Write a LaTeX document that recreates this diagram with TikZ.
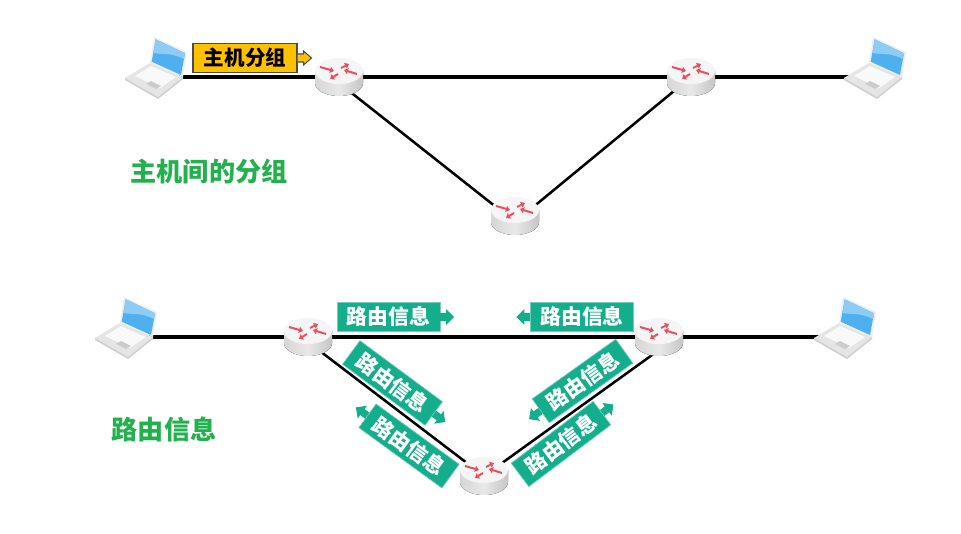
\documentclass[tikz,border=0pt]{standalone}
\usepackage{fontspec}
\newfontfamily\cjk{Noto Sans CJK SC}
\usetikzlibrary{arrows.meta}
\definecolor{tagteal}{HTML}{14AE8C}
\definecolor{titlegreen}{HTML}{22B14C}
\definecolor{pktyellow}{HTML}{FFC000}
\definecolor{routerred}{HTML}{E8505F}
\definecolor{lapblue}{HTML}{4FB0F0}
\tikzset{
    spot/.style={inner sep=0pt, minimum size=1pt},
    link/.style={line width=2.3pt, black},
    slant/.style={line width=1.9pt, black},
    tagbox/.style={draw=tagteal!60, line width=0.5pt, fill=tagteal, text=white,
                   font=\cjk\bfseries\fontsize{15.6}{15.6}\selectfont,
                   minimum width=77pt, minimum height=22pt, inner sep=0pt, transform shape},
    tagarr/.style={line width=5.5pt, tagteal, -{Triangle[length=6pt,width=11.5pt]}},
    title/.style={text=titlegreen, font=\cjk\bfseries\fontsize{19.6}{19.6}\selectfont, inner sep=0pt},
    redarr/.style={routerred, line width=1.5pt, -{Triangle[length=3pt,width=4.6pt]}},
    tagright/.pic={
        \node[tagbox] (-box) at (0,0) {路由信息};
        \draw[tagarr] (-box.east) -- ++(14,0);
    },
    tagleft/.pic={
        \node[tagbox] (-box) at (0,0) {路由信息};
        \draw[tagarr] (-box.west) -- ++(-14,0);
    },
    router/.pic={
        \fill[left color=gray!32, right color=gray!45, middle color=gray!18]
            (-24,-6) -- (-24,6) arc[x radius=24, y radius=-13, start angle=180, end angle=360]
            -- (24,-6) -- cycle;
        \fill[gray!8] (0,-6) ellipse[x radius=24, y radius=13];
        \draw[redarr] (-19,-10) -- (-5,-6);
        \draw[redarr] (18,-3) -- (5,-7);
        \draw[redarr] (2,-9) -- (10,-13);
        \draw[redarr] (-1,-3) -- (-9,2);
    },
    laptop/.pic={
        \fill[gray!38] (-45,1) -- (-45,3) -- (-12,22) -- (13,2) -- (13,0) -- cycle;
        \fill[gray!20] (-20,-14) -- (-45,1) -- (-12,20) -- (13,0) -- cycle;
        \fill[gray!5] (-19,-11) -- (-35,-1) -- (-10,11) -- (6,0) -- cycle;
        \fill[gray!40] (-24,7) -- (-19,4) -- (-9,9) -- (-14,12) -- cycle;
        \fill[gray!14] (-16,-40) -- (17,-25) -- (13,0) -- (-20,-14) -- cycle;
        \fill[lapblue] (-14.3,-37.7) -- (15,-23.7) -- (11,-2) -- (-18.3,-15.3) -- cycle;
        \fill[lapblue!65!white] (-14.3,-37.7) -- (15,-23.7) -- (14,-18) .. controls (0,-25) and (-8,-22) .. (-16.5,-24) -- cycle;
    }
}
\begin{document}
\begin{tikzpicture}[x=0.75pt, y=-0.75pt]
\useasboundingbox (0,0) rectangle (961,534);
\fill[white] (0,0) rectangle (961,534);
% upper network
\node[spot] (lapa) at (170,77) {};
\node[spot] (lapb) at (889,77) {};
\node[spot] (ra) at (339,77) {};
\node[spot] (rb) at (691,77) {};
\node[spot] (rc) at (515,216) {};
\draw[link] (lapa) -- (ra);
\draw[link] (ra) -- (rb);
\draw[link] (rb) -- (lapb);
\draw[slant] ([yshift=-4.5pt]ra.center) -- ([yshift=-4.5pt]rc.center);
\draw[slant] (rb) -- ([yshift=-4.5pt]rc.center);
\pic at (lapa) {laptop};
\pic at (lapb) {laptop};
\pic at (ra) {router};
\pic at (rb) {router};
\pic at (rc) {router};
% packet
\node[draw=black!70, line width=0.8pt, fill=pktyellow, minimum width=78pt, minimum height=22pt, inner sep=0pt,
      font=\cjk\bfseries\fontsize{15.4}{15.4}\selectfont] (pkt) at (245,58) {主机分组};
\draw[draw=black!70, line width=0.8pt, fill=pktyellow, line join=miter]
    (pkt.east) ++(0,-4) -- ++(6,0) -- ++(0,-3) -- ++(8,7) -- ++(-8,7) -- ++(0,-3) -- ++(-6,0);
\node[title] (ttla) at (209,172) {主机间的分组};
% lower network
\node[spot] (lapc) at (140,337) {};
\node[spot] (lapd) at (859,337) {};
\node[spot] (rd) at (308,337) {};
\node[spot] (re) at (659,337) {};
\node[spot] (rf) at (484,476) {};
\draw[link] (lapc) -- (rd);
\draw[link] (rd) -- (re);
\draw[link] (re) -- (lapd);
\draw[slant] ([yshift=-3.75pt]rd.center) -- (rf);
\draw[slant] ([yshift=-9.75pt]re.center) -- (rf);
\pic at (lapc) {laptop};
\pic at (lapd) {laptop};
\pic at (rd) {router};
\pic at (re) {router};
\pic at (rf) {router};
\pic (taga) at (388.5,317) {tagright};
\pic (tagb) at (582,317) {tagleft};
\pic[rotate=-36.5] (tagc) at (392.5,383) {tagright};
\pic[rotate=-36] (tagd) at (409,446) {tagleft};
\pic[rotate=35.5] (tage) at (582.5,381) {tagleft};
\pic[rotate=37] (tagf) at (561,444) {tagright};
\node[title] (ttlb) at (164,429) {路由信息};
\end{tikzpicture}
\end{document}
